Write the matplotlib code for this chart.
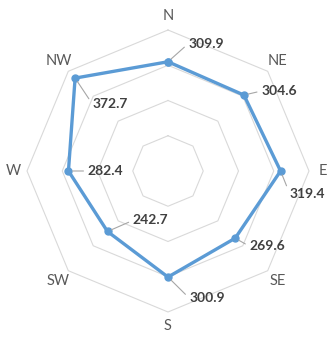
import numpy as np
import matplotlib

matplotlib.use("Agg")
import matplotlib.pyplot as plt

# --- data -------------------------------------------------------------------
directions = ["N", "NE", "E", "SE", "S", "SW", "W", "NW"]
values = [309.9, 304.6, 319.4, 269.6, 300.9, 242.7, 282.4, 372.7]
ring_levels = [100, 200, 300, 400]

# --- style ------------------------------------------------------------------
LINE_BLUE = "#5B9BD5"
GRID = "#D9D9D9"
CAT_TEXT = "#595959"
VAL_TEXT = "#404040"
LEADER = "#A6A6A6"
FONT = ["Lato", "DejaVu Sans"]

# label offsets (pixels) from each marker, same order as directions
label_offsets = [(38, 18), (35, 4), (27, -23), (32, -8),
                 (39, -21), (43, 11), (37, 0), (35, -26)]

angles = np.arange(len(directions)) * 2 * np.pi / len(directions)


def to_xy(r, a):
    return r * np.sin(a), r * np.cos(a)


fig = plt.figure(figsize=(3.35, 3.41), dpi=100)
ax = fig.add_axes([0, 0, 1, 1])
ax.set_xlim(-476.6, 473.8)
ax.set_ylim(-482.3, 485.1)
ax.axis("off")

# octagonal grid rings
for lvl in ring_levels:
    gx, gy = to_xy(lvl, np.append(angles, angles[0]))
    ax.plot(gx, gy, color=GRID, lw=0.8, zorder=1)

# category labels
for name, a in zip(directions, angles):
    lx, ly = to_xy(440, a)
    ax.text(lx, ly, name, ha="center", va="center", fontsize=10.5,
            color=CAT_TEXT, family=FONT)

# series
vals = np.array(values)
px, py = to_xy(vals, angles)
ax.plot(np.append(px, px[0]), np.append(py, py[0]), color=LINE_BLUE,
        lw=2.4, marker="o", markersize=5, zorder=3)

# data labels with leader lines
for x, y, v, off in zip(px, py, values, label_offsets):
    ax.annotate(
        f"{v:.1f}",
        xy=(x, y),
        xytext=off,
        textcoords="offset pixels",
        ha="center",
        va="center",
        fontsize=10,
        fontweight="bold",
        color=VAL_TEXT,
        family=FONT,
        arrowprops=dict(arrowstyle="-", color=LEADER, lw=0.8,
                        relpos=(0, 0.5), shrinkA=1, shrinkB=3),
        zorder=4,
    )

fig.savefig("out.png", dpi=100, facecolor="white")
